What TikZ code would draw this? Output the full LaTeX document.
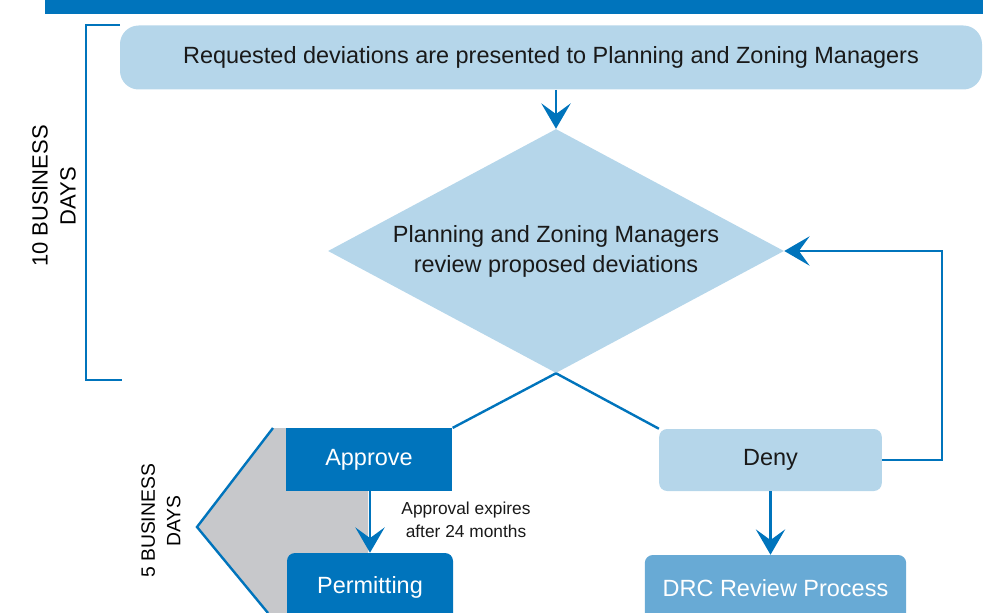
\documentclass[tikz,border=0pt]{standalone}
\usepackage{fontspec}
\setmainfont{Liberation Sans}
\usetikzlibrary{arrows.meta,positioning,calc,shapes.geometric}
\definecolor{DeepBlue}{RGB}{0,116,188}
\definecolor{PaleBlue}{RGB}{181,214,234}
\definecolor{MidBlue}{RGB}{104,170,213}
\definecolor{PhaseGrey}{RGB}{199,200,203}
\tikzset{
  palebox/.style={fill=PaleBlue, rounded corners=6pt, align=center,
    font=\fontsize{17.6}{22.5}\selectfont, text=black!90, inner sep=0pt},
  deepbox/.style={fill=DeepBlue, align=center, text=white,
    font=\fontsize{17.6}{22.5}\selectfont, inner sep=0pt},
  midbox/.style={fill=MidBlue, rounded corners=6pt, align=center, text=white,
    font=\fontsize{17.6}{22.5}\selectfont, inner sep=0pt},
  flowline/.style={draw=DeepBlue, line width=1.8pt},
  flowarrow/.style={flowline, -{Stealth[length=19pt, width=22pt, inset=8pt]}},
  daysnote/.style={rotate=90, align=center, text=black},
  smallnote/.style={font=\fontsize{13}{17}\selectfont, align=center, text=black!90}
}
\begin{document}
\begin{tikzpicture}[x=0.75pt, y=-0.75pt]
  \useasboundingbox (0,0) rectangle (983,613);
  % header bar and phase marker
  \fill[DeepBlue] (45,0) rectangle (983,14);
  \fill[PhaseGrey] (273,428) -- (368,428) -- (368,613) -- (268,613) -- (197,527) -- cycle;
  \draw[flowline] (273,428) -- (197,527) -- (268,613);
  \draw[flowline] (120,25) -- (86,25) -- (86,380) -- (122,380);
  \node[daysnote, font=\fontsize{16.5}{21}\selectfont] (tendays) at (54,196) {10 BUSINESS\\DAYS};
  \node[daysnote, font=\fontsize{14.5}{19}\selectfont] (fivedays) at (161,521) {5 BUSINESS\\DAYS};
  % boxes
  \node[palebox, rounded corners=14pt, minimum width=646.5pt, minimum height=48pt] (present) at (551,57.5)
    {Requested deviations are presented to Planning and Zoning Managers};
  \node[palebox, diamond, aspect=1.87, rounded corners=0pt, minimum width=342pt, minimum height=183pt] (review) at (556,251)
    {Planning and Zoning Managers\\review proposed deviations};
  \node[deepbox, minimum width=125pt, minimum height=47pt] (approve) at (369,459.5) {Approve};
  \node[deepbox, rounded corners=6pt, minimum width=124.5pt, minimum height=51pt] (permit) at (370,587) {Permitting};
  \node[palebox, minimum width=167pt, minimum height=46.5pt] (deny) at (770.5,460) {Deny};
  \node[midbox, minimum width=196pt, minimum height=49.5pt] (drc) at (775.5,588) {DRC Review Process};
  \node[smallnote] (expire) at (466,520) {Approval expires\\after 24 months};
  \coordinate (loop) at (942,251);
  % connectors
  \draw[flowarrow] (present.south -| review.north) -- (review.north);
  \draw[flowline] (review.south) -- (approve.north east);
  \draw[flowline] (review.south) -- (deny.north west);
  \draw[flowarrow] (approve.south -| permit.north) -- (permit.north);
  \draw[flowarrow] (deny.south) -- (deny.south |- drc.north);
  \draw[flowarrow] (deny.east) -| (loop |- review.east) -- (review.east);
\end{tikzpicture}
\end{document}
